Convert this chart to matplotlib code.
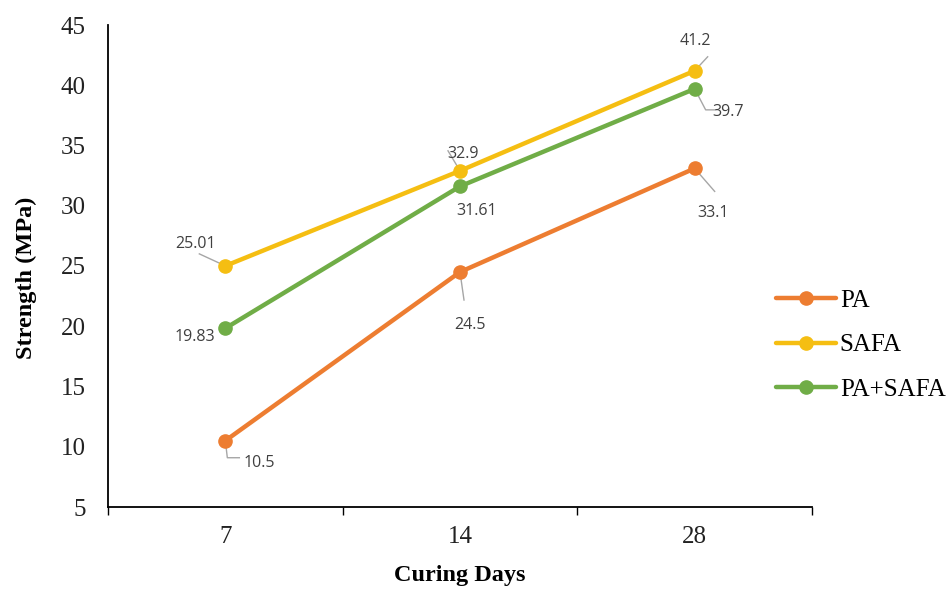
import matplotlib
matplotlib.use("Agg")
import matplotlib.pyplot as plt

# Compressive strength by curing age
days = ["7", "14", "28"]
pa = [10.5, 24.5, 33.1]
safa = [25.01, 32.9, 41.2]
pa_safa = [19.83, 31.61, 39.7]

series_names = ["PA", "SAFA", "PA+SAFA"]
colors = {"PA": "#ED7D31", "SAFA": "#F5BE12", "PA+SAFA": "#70AD47"}

serif = ["Liberation Serif", "DejaVu Serif"]
label_font = ["Open Sans", "DejaVu Sans"]

fig = plt.figure(figsize=(9.52, 5.90), dpi=100)
ax = fig.add_axes([108 / 952, 1 - 507 / 590, 704 / 952, (507 - 25) / 590])

x = list(range(len(days)))
lines = []
for name, vals in zip(series_names, [pa, safa, pa_safa]):
    (ln,) = ax.plot(x, vals, color=colors[name], lw=3.2, marker="o",
                    markersize=9.5, label=name, solid_capstyle="round", zorder=3)
    lines.append(ln)

ax.set_xlim(-0.5, len(days) - 0.5)
ax.set_ylim(5, 45)
ax.set_yticks(range(5, 46, 5))
ax.set_xticks(x)
ax.set_xticklabels(days)
ax.set_xticks([i - 0.5 for i in range(len(days) + 1)], minor=True)

for s in ["top", "right"]:
    ax.spines[s].set_visible(False)
for s in ["left", "bottom"]:
    ax.spines[s].set_linewidth(1.3)
    ax.spines[s].set_color("black")

ax.tick_params(axis="y", length=0, pad=16)
ax.tick_params(axis="x", which="major", length=0, pad=14)
ax.tick_params(axis="x", which="minor", length=6, width=1.0, direction="out")
for lbl in ax.get_xticklabels() + ax.get_yticklabels():
    lbl.set_fontfamily(serif)
    lbl.set_fontsize(18)
    lbl.set_color("#222222")

ax.set_ylabel("Strength (MPa)", fontfamily=serif, fontweight="bold",
              fontsize=17.5)
ax.yaxis.set_label_coords(-0.101, 0.475)
ax.set_xlabel("Curing Days", fontfamily=serif, fontweight="bold",
              fontsize=17.5, va="center")
ax.xaxis.set_label_coords(0.5, -(576 - 507) / 482)

# Data labels: (series values, index, text offset px, leader path offsets px)
lead = "#A6A6A6"
label_specs = [
    (safa, 0, (-30, 22), [(0, 0), (-26, 12)]),
    (pa_safa, 0, (-30, -9), None),
    (pa, 0, (34, -22), [(0, 0), (2, -17), (14, -17)]),
    (safa, 1, (3, 17), [(0, 0), (-12, 20)]),
    (pa_safa, 1, (17, -25), None),
    (pa, 1, (10, -53), [(0, 0), (4, -28)]),
    (safa, 2, (1, 30), [(0, 0), (13, 14)]),
    (pa_safa, 2, (33, -23), [(0, 0), (11, -21), (21, -21)]),
    (pa, 2, (18, -45), [(0, 0), (20, -23)]),
]
for vals, i, toff, path in label_specs:
    ax.annotate(f"{vals[i]:g}", xy=(x[i], vals[i]), xytext=toff,
                textcoords="offset pixels", ha="center", va="center",
                fontsize=11.5, color="#404040", fontfamily=label_font, zorder=5)
    if path:
        px0, py0 = ax.transData.transform((x[i], vals[i]))
        xs, ys = [], []
        for dx, dy in path:
            X, Y = ax.transData.inverted().transform((px0 + dx, py0 + dy))
            xs.append(X)
            ys.append(Y)
        ax.plot(xs, ys, color=lead, lw=1.0, zorder=2, clip_on=False)

fig.legend(handles=lines, labels=series_names, loc="center left",
           bbox_to_anchor=(776 / 952, 1 - 345 / 590), frameon=False,
           prop={"family": serif, "size": 18}, handlelength=2.4,
           handletextpad=0.15, labelspacing=0.88, borderpad=0,
           borderaxespad=0)

fig.savefig("out.png", dpi=100, facecolor="white")
